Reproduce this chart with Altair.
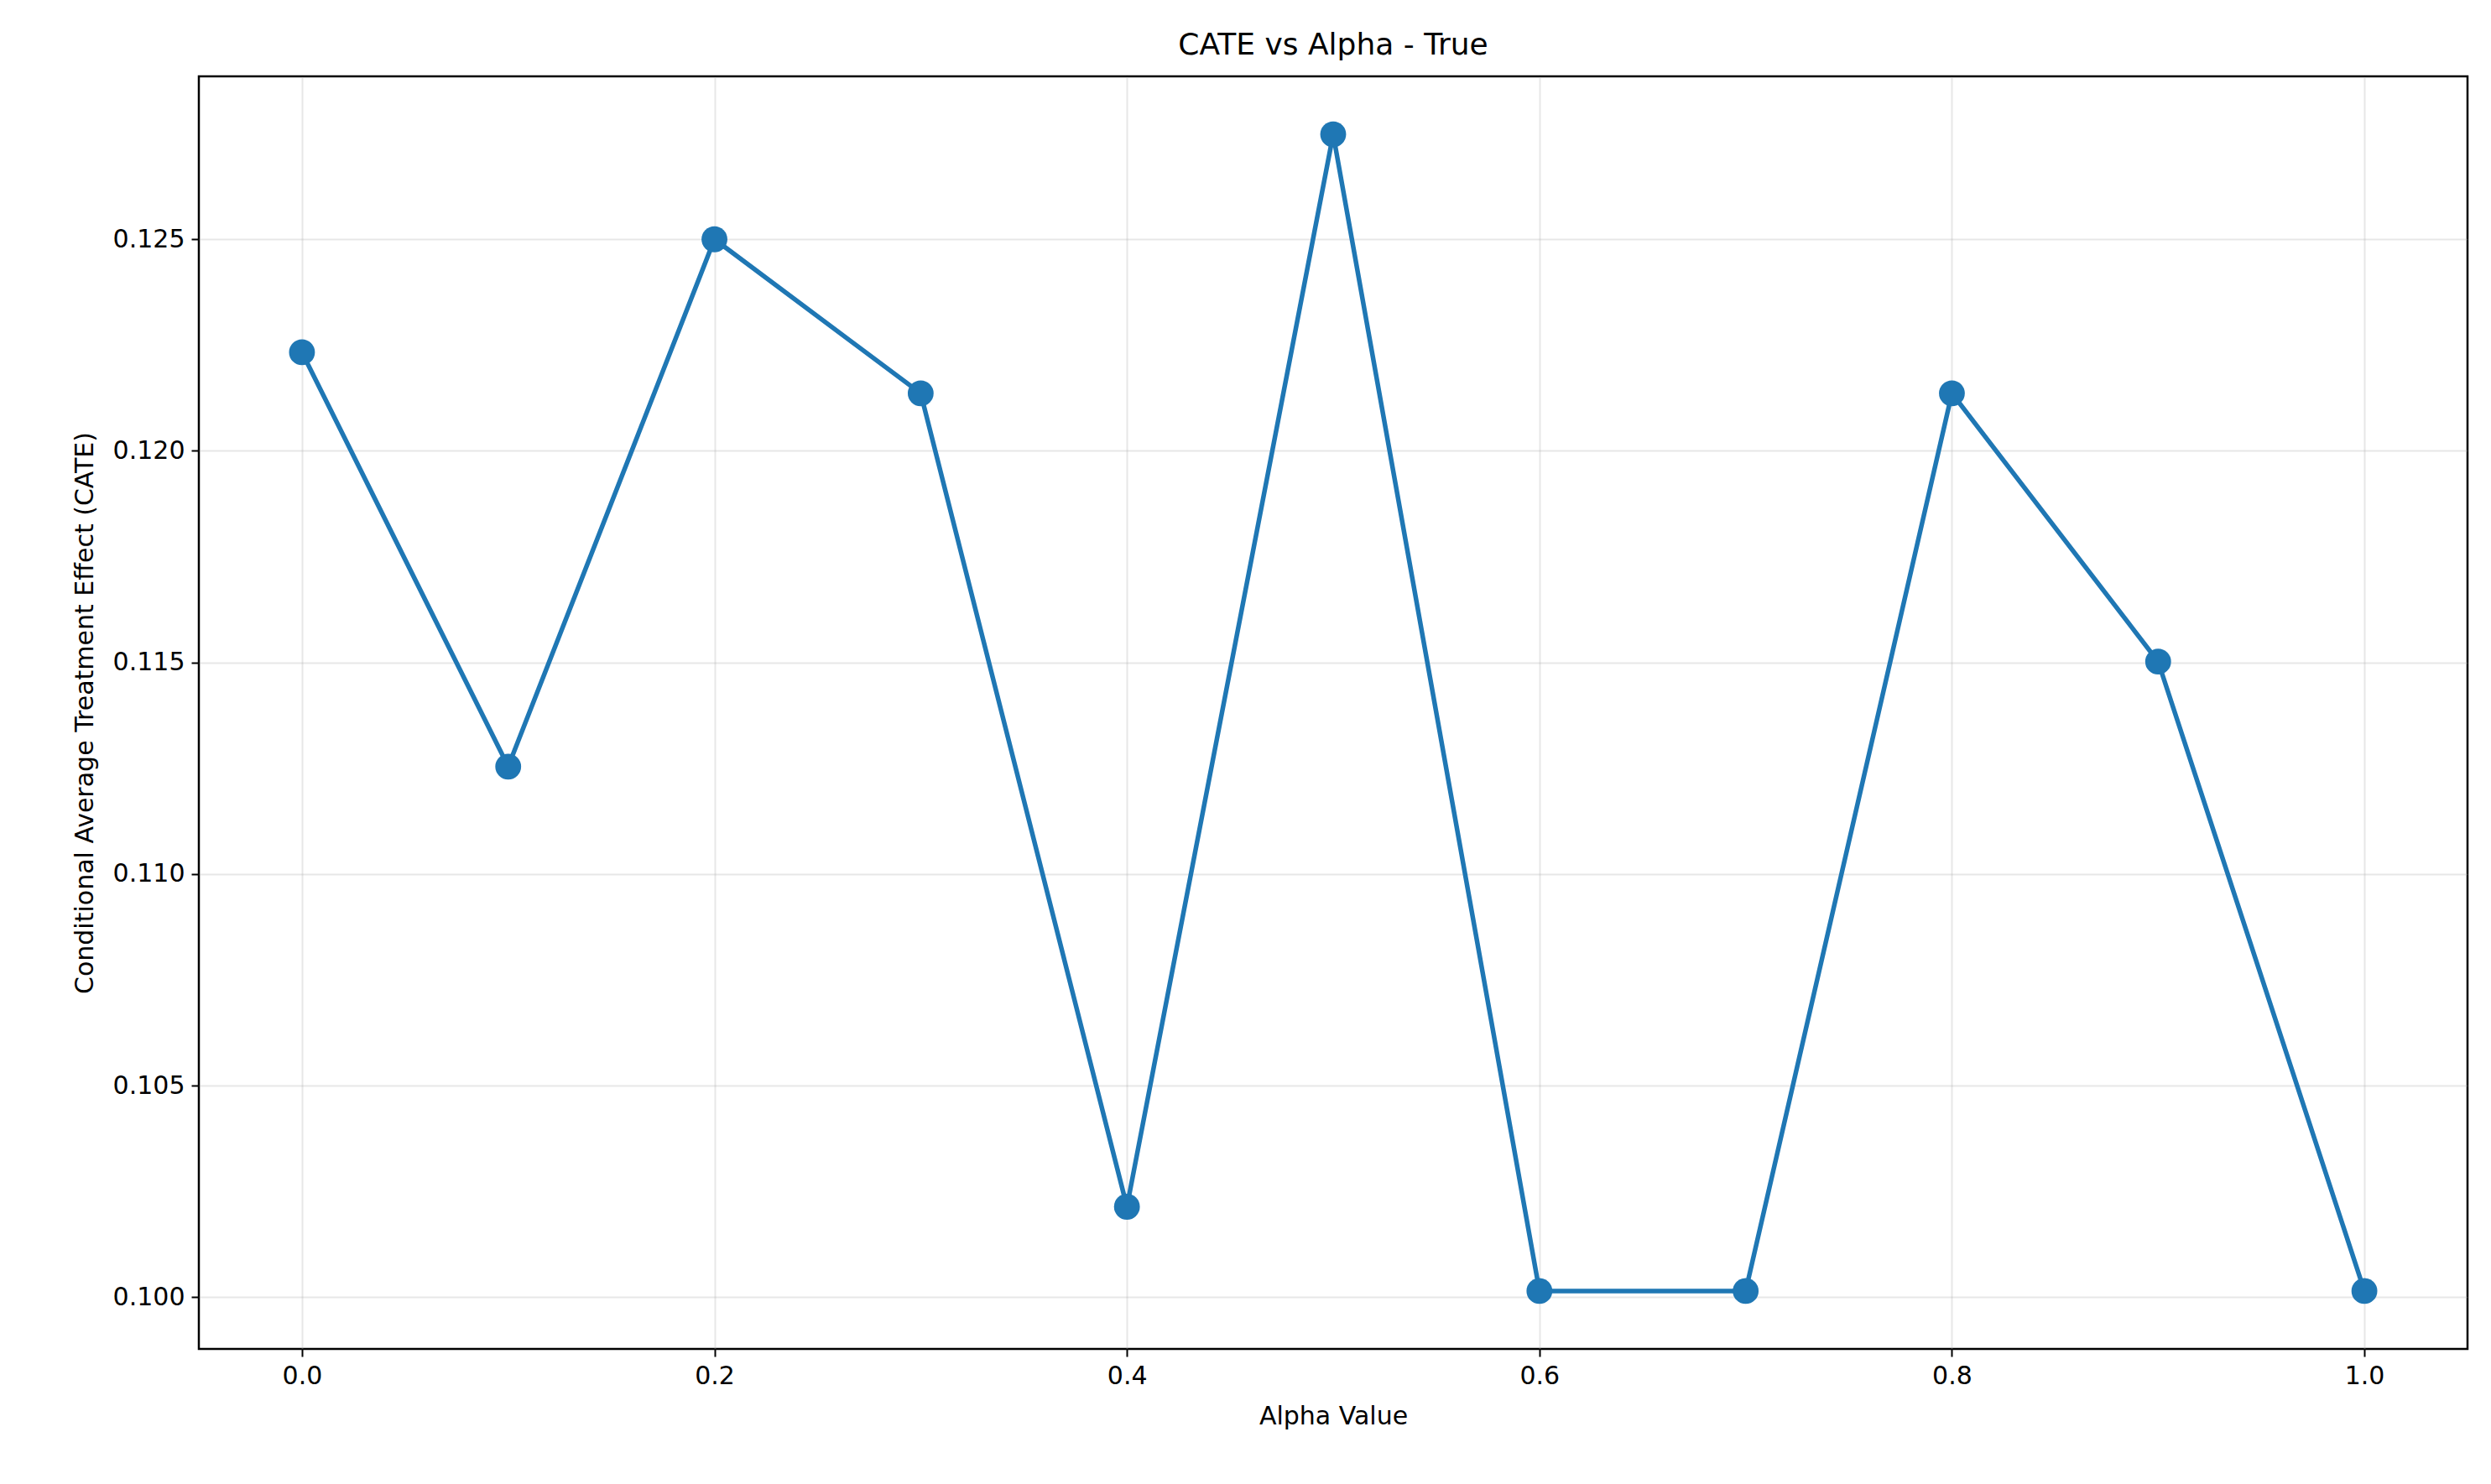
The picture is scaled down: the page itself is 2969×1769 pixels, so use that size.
import altair as alt
import pandas as pd

alphas = [0.0, 0.1, 0.2, 0.3, 0.4, 0.5, 0.6, 0.7, 0.8, 0.9, 1.0]
cate = [0.12233, 0.11254, 0.12500, 0.12136, 0.10214, 0.12748, 0.10015, 0.10015, 0.12136, 0.11502, 0.10015]
x_ticks = [0.0, 0.2, 0.4, 0.6, 0.8, 1.0]
y_ticks = [0.100, 0.105, 0.110, 0.115, 0.120, 0.125]

df = pd.DataFrame({"alpha": alphas, "cate": cate})
color = "#1f77b4"

x = alt.X("alpha:Q", title="Alpha Value",
          scale=alt.Scale(domain=[-0.05, 1.05], nice=False, zero=False),
          axis=alt.Axis(values=x_ticks, format=".1f"))
y = alt.Y("cate:Q", title="Conditional Average Treatment Effect (CATE)",
          scale=alt.Scale(domain=[0.09878, 0.12885], nice=False, zero=False),
          axis=alt.Axis(values=y_ticks, format=".3f"))

base = alt.Chart(df).encode(x=x, y=y)
line = base.mark_line(color=color, strokeWidth=5.5)
pts = base.mark_point(filled=True, color=color, size=950, opacity=1)

chart = (line + pts).properties(
    width=2704, height=1517,
    title="CATE vs Alpha - True",
    autosize=alt.AutoSizeParams(type="none"),
    padding={"left": 229, "top": 83, "right": 20, "bottom": 150},
).configure_view(stroke="black", strokeWidth=2.5).configure_axis(
    labelFont="DejaVu Sans", titleFont="DejaVu Sans",
    labelFontSize=30, titleFontSize=30, titleFontWeight="normal",
    labelColor="black", titleColor="black",
    grid=True, gridColor="#b0b0b0", gridOpacity=0.3, gridWidth=2,
    domain=False, tickColor="black", tickSize=9, tickWidth=2, labelPadding=8,
    titlePadding=18,
).configure_title(font="DejaVu Sans", fontSize=36, fontWeight="normal",
                  color="black", offset=18)

chart.save("out.html", embed_options={"renderer": "svg", "actions": False})
